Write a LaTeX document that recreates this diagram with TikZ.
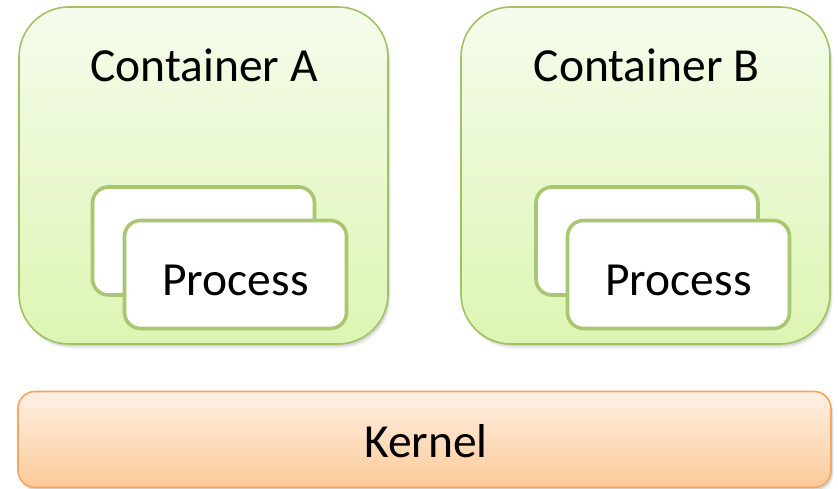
\documentclass[tikz,border=0pt]{standalone}
\usepackage{fontspec}
\setmainfont{Carlito}
\usetikzlibrary{shadows}

\definecolor{grnline}{HTML}{A2C164}
\definecolor{grntop}{HTML}{F5FCEC}
\definecolor{grnbot}{HTML}{DDF5B3}
\definecolor{procline}{HTML}{A9C671}
\definecolor{orgline}{HTML}{F8A55E}
\definecolor{orgtop}{HTML}{FEF0E4}
\definecolor{orgbot}{HTML}{FDCA98}

\tikzset{
  softshadow/.style={
    general shadow={fill=black, opacity=0.06, shadow xshift=2.5pt, shadow yshift=-4.5pt},
    general shadow={fill=black, opacity=0.10, shadow xshift=1.5pt, shadow yshift=-2.5pt}},
  container/.style={rectangle, rounded corners=50pt, draw=grnline, line width=1.6pt,
    top color=grntop, bottom color=grnbot, softshadow,
    minimum width=369pt, minimum height=337pt, inner sep=0pt},
  procbox/.style={rectangle, rounded corners=16pt, draw=procline, line width=3.6pt,
    fill=white, minimum width=222pt, minimum height=108pt, inner sep=0pt},
  kernelbox/.style={rectangle, rounded corners=17pt, draw=orgline, line width=1.6pt,
    top color=orgtop, bottom color=orgbot, softshadow,
    minimum width=813pt, minimum height=96pt, inner sep=0pt},
  lbl/.style={anchor=base, inner sep=0pt, font=\fontsize{47.5}{57}\selectfont, text=black}
}

\begin{document}
\begin{tikzpicture}[x=1pt, y=-1pt]
  \useasboundingbox (0,0) rectangle (838,489);

  % two containers
  \node[container] (ca) at (203.5,175.5) {};
  \node[container] (cb) at (645.5,175.5) {};
  \node[lbl] (la) at (204,81.5) {Container A};
  \node[lbl] (lb) at (646.5,81.5) {Container B};

  % stacked processes in container A
  \node[procbox] (pa1) at (203.5,241) {};
  \node[procbox] (pa2) at (235.5,274.5) {};
  \node[lbl] (tpa) at (235.5,295) {Process};

  % stacked processes in container B
  \node[procbox] (pb1) at (647,241) {};
  \node[procbox] (pb2) at (678.5,274.5) {};
  \node[lbl] (tpb) at (678.5,295) {Process};

  % shared kernel
  \node[kernelbox] (k) at (424.5,439.5) {};
  \node[lbl] (tk) at (426,457.5) {Kernel};
\end{tikzpicture}
\end{document}
